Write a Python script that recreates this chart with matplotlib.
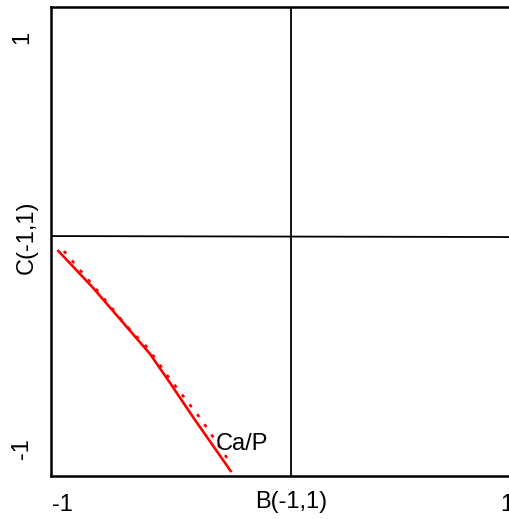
import matplotlib
matplotlib.use("Agg")
import matplotlib.pyplot as plt

plt.rcParams['font.family'] = ['Liberation Sans', 'DejaVu Sans']

# Data
solid_x = [-1.023, -0.862, -0.606, -0.516, -0.413, -0.240]
solid_y = [-0.035, -0.220, -0.542, -0.683, -0.849, -1.117]
dash_x = [-0.994, -0.853, -0.711, -0.616, -0.526, -0.373, -0.248]
dash_y = [-0.040, -0.220, -0.406, -0.513, -0.650, -0.865, -1.068]
cross_x = 0.028
cross_y = [0.033, 0.028]
xticks = [-1, 1]
xtick_labels = ['-1', '1']
yticks = [-1, 1]
ytick_labels = ['-1', '1']
series_label = 'Ca/P'
label_pos = (-0.309, -1.010)

W, H = 510, 519
FS = 17
fig = plt.figure(figsize=(W / 100, H / 100), dpi=100)
ax = fig.add_axes([51 / W, (H - 476) / H, (531 - 51) / W, (476 - 7) / H])
ax.set_xlim(-1.052, 1.108)
ax.set_ylim(-1.136, 1.149)

ax.plot(solid_x, solid_y, color='#ff0000', lw=1.9, solid_capstyle='butt')
ax.plot(dash_x, dash_y, color='#ff0000', lw=1.9, linestyle=(0, (1.3, 3.4)))
ax.axvline(cross_x, color='black', lw=1.3)
ax.plot([ax.get_xlim()[0], ax.get_xlim()[1]], cross_y, color='black', lw=1.3)
ax.text(label_pos[0], label_pos[1], series_label, fontsize=FS, ha='left', va='baseline')

for s in ['left', 'bottom', 'top', 'right']:
    ax.spines[s].set_linewidth(1.8)
    ax.spines[s].set_color('black')

ax.set_xticks(xticks)
ax.set_xticklabels(xtick_labels, fontsize=FS)
ax.set_yticks(yticks)
ax.set_yticklabels(ytick_labels, fontsize=FS, rotation=90, va='center')
ax.tick_params(axis='x', length=0, pad=13)
ax.tick_params(axis='y', length=0, pad=13)
ax.set_xlabel('B(-1,1)', fontsize=FS, labelpad=-18)
ax.set_ylabel('C(-1,1)', fontsize=FS)
ax.yaxis.set_label_coords(-0.028, 0.51)

fig.savefig('out.png', dpi=100)
